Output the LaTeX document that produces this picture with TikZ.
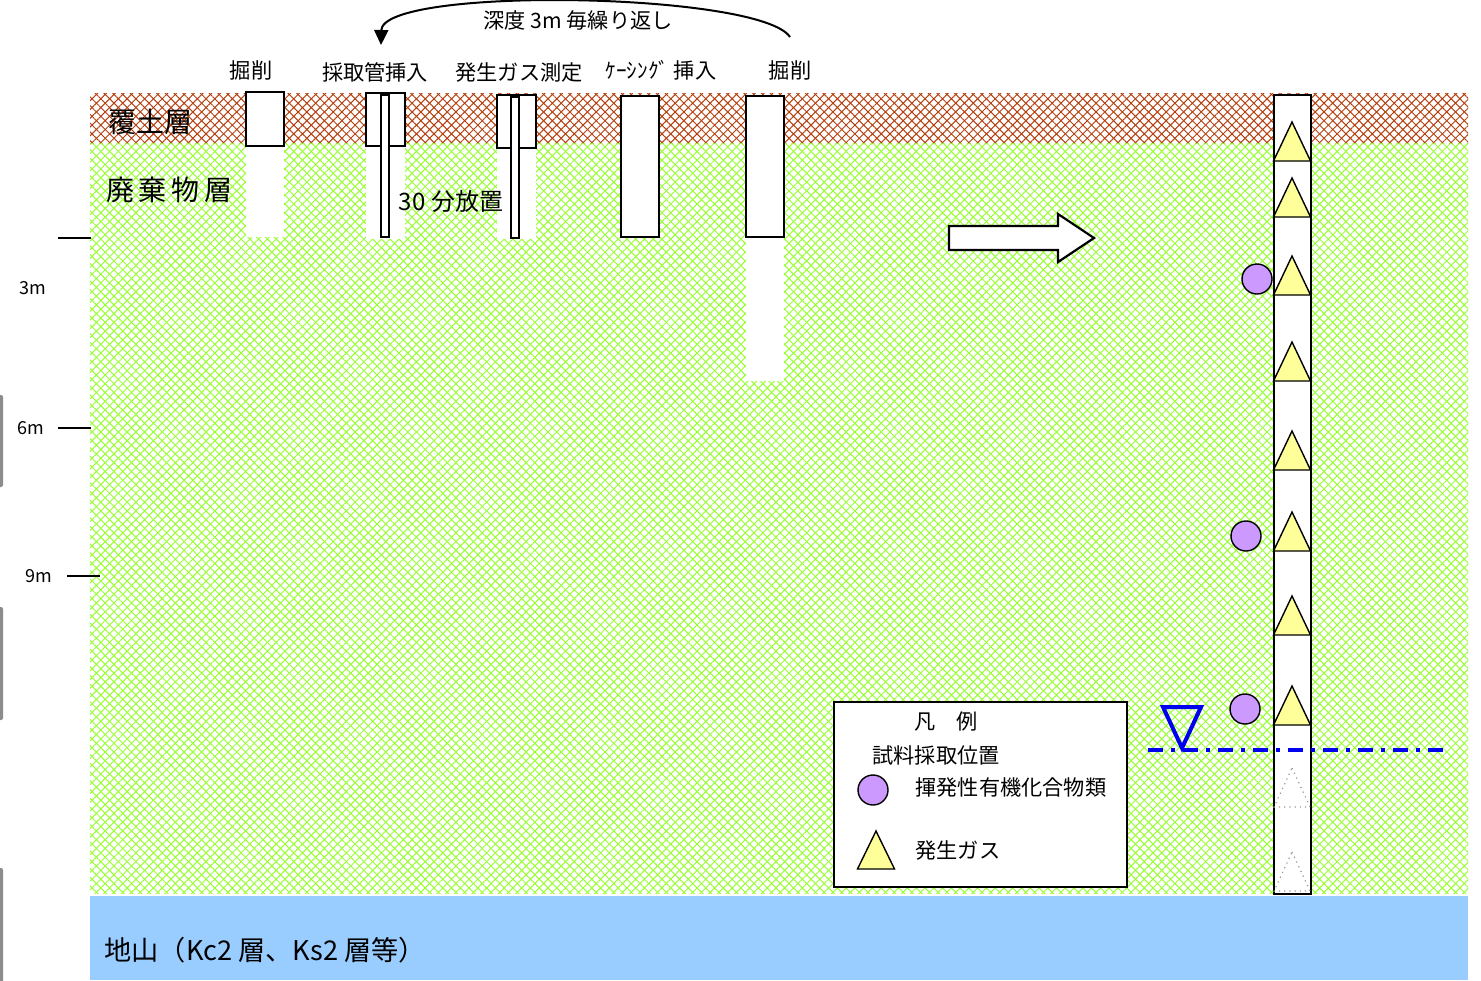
\documentclass[tikz,border=0pt]{standalone}
\usepackage{fontspec}
\setmainfont{Noto Sans CJK JP}
\usetikzlibrary{patterns.meta,arrows.meta}
\definecolor{soil}{HTML}{B5400F}
\definecolor{waste}{HTML}{99FF33}
\definecolor{bedrock}{HTML}{99CCFF}
\definecolor{voc}{HTML}{CC99FF}
\definecolor{gas}{HTML}{FFFF99}
\definecolor{water}{HTML}{0000F0}
\definecolor{edgegray}{HTML}{8C8C8C}

\tikzset{
  hatchA/.style={pattern={Lines[angle=45,distance=3.1pt,line width=0.5pt]}, pattern color=#1},
  hatchB/.style={pattern={Lines[angle=-45,distance=3.1pt,line width=0.5pt]}, pattern color=#1},
  hole/.style={fill=white, draw=none},
  casing/.style={fill=white, draw=black, line width=1pt},
  tube/.style={fill=white, draw=black, line width=0.7pt},
  gastri/.style={fill=gas, draw=black, line width=0.7pt, line join=miter},
  ghosttri/.style={draw=black!40, dotted, line width=0.6pt},
  vocdot/.style={circle, fill=voc, draw=black, line width=0.7pt, minimum size=15pt, inner sep=0pt},
  steplabel/.style={font=\fontsize{10.6}{12}\selectfont, inner sep=0pt},
  layerlabel/.style={font=\fontsize{14}{16}\selectfont, inner sep=0pt},
  depthlabel/.style={font=\fontsize{9}{10}\selectfont, inner sep=0pt},
  legendtext/.style={font=\fontsize{10.6}{12}\selectfont, inner sep=0pt, anchor=west},
  tick/.style={draw=black, line width=0.6pt},
}

\begin{document}
\begin{tikzpicture}[x=0.5pt,y=-0.5pt]
\useasboundingbox (0,0) rectangle (1481,980);
\fill[white] (0,0) rectangle (1481,980);

% strata: cover soil, waste, bedrock
\path[hatchA=soil] (90,93) rectangle (1468,143);
\path[hatchB=soil] (90,93) rectangle (1468,143);
\path[hatchA=waste] (90,143) rectangle (1468,893);
\path[hatchB=waste] (90,143) rectangle (1468,893);
\fill[bedrock] (90,896) rectangle (1468,980);

% left window edge marks
\fill[edgegray, rounded corners=1pt] (-3,395) rectangle (3,487);
\fill[edgegray, rounded corners=1pt] (-3,607) rectangle (3,720);
\fill[edgegray, rounded corners=1pt] (-3,868) rectangle (3,985);

% step 1: excavation
\path[hole] (246,146) rectangle (284,237);
\draw[casing] (246,92) rectangle (284,146);
% step 2: sampling tube insertion
\path[hole] (366,146) rectangle (405,239);
\draw[casing] (366,93) rectangle (405,146);
\draw[tube] (381,95) rectangle (389,237);
% step 3: gas measurement
\path[hole] (497,148) rectangle (536,239);
\draw[casing] (497,95) rectangle (536,148);
\draw[tube] (511,97) rectangle (519,238);
% step 4: casing insertion
\draw[casing] (621,96) rectangle (659,237);
% step 5: excavation
\path[hole] (746,237) rectangle (784,381);
\draw[casing] (746,96) rectangle (784,237);

% step labels
\node[steplabel] (s1) at (251,70) {掘削};
\node[steplabel] (s2) at (375,72) {採取管挿入};
\node[steplabel] (s3) at (519,72) {発生ガス測定};
\node[steplabel] (s4) at (661,70) {ｹｰｼﾝｸﾞ 挿入};
\node[steplabel] (s5) at (790,70) {掘削};
\node[steplabel] (rep) at (578,20) {深度 3m 毎繰り返し};
\node[steplabel, font=\fontsize{12}{14}\selectfont] (wait) at (451,201) {30 分放置};

% repeat loop arrow
\coordinate (loopA) at (790,37);
\coordinate (loopB) at (381,45);
\draw[line width=1pt, -{Triangle[length=7.5pt,width=7pt]}]
  (loopA) .. controls (760,-8) and (382,-14) .. (loopB);

% layer names
\node[layerlabel] (cover) at (150,122) {覆土層};
\node[layerlabel] (waste) at (169,190) {廃\,棄\,物\,層};
\node[layerlabel, font=\fontsize{13.6}{16}\selectfont, anchor=west] (ground) at (104,950) {地山（Kc2 層、Ks2 層等）};

% depth scale
\node[depthlabel] (d3) at (33,288) {3m};
\node[depthlabel] (d6) at (31,428) {6m};
\node[depthlabel] (d9) at (39,576) {9m};
\coordinate (t3a) at (58,238); \coordinate (t3b) at (91,238);
\coordinate (t6a) at (58,428); \coordinate (t6b) at (91,428);
\coordinate (t9a) at (67,576); \coordinate (t9b) at (100,576);
\draw[tick] (t3a) -- (t3b);
\draw[tick] (t6a) -- (t6b);
\draw[tick] (t9a) -- (t9b);

% block arrow
\draw[fill=white, draw=black, line width=1.1pt, line join=miter]
  (949,226) -- (1058,226) -- (1058,214) -- (1094,238) -- (1058,262)
  -- (1058,250) -- (949,250) -- cycle;

% completed monitoring well
\draw[fill=white, draw=black, line width=0.8pt] (1274,95) rectangle (1311,894);
\foreach \ty in {122,178,256,342,431,512,596,686}{
  \draw[gastri] (1292,\ty) -- (1310.5,\ty+39) -- (1273.5,\ty+39) -- cycle;
}
\foreach \ty in {768,852}{
  \draw[ghosttri] (1292,\ty) -- (1310,\ty+39) -- (1274,\ty+39) -- cycle;
}
\node[vocdot] (v1) at (1257,279) {};
\node[vocdot] (v2) at (1246,536) {};
\node[vocdot] (v3) at (1245,709) {};

% groundwater level
\draw[water, line width=2pt, dash pattern=on 7.5pt off 4pt on 2pt off 4pt]
  (1148,750) -- (1443,750);
\draw[water, line width=2pt, line join=miter] (1163,707) -- (1201,707) -- (1182,748) -- cycle;

% legend
\draw[fill=white, draw=black, line width=0.8pt] (834,702) rectangle (1127,887);
\node[legendtext, anchor=center] (lg0) at (946,722) {凡　例};
\node[legendtext] (lg1) at (872,755) {試料採取位置};
\node[vocdot] (lgc) at (873,790) {};
\node[legendtext] (lg2) at (915,787) {揮発性有機化合物類};
\draw[gastri] (876,831) -- (894.5,869) -- (857.5,869) -- cycle;
\node[legendtext] (lg3) at (915,850) {発生ガス};
\end{tikzpicture}
\end{document}
